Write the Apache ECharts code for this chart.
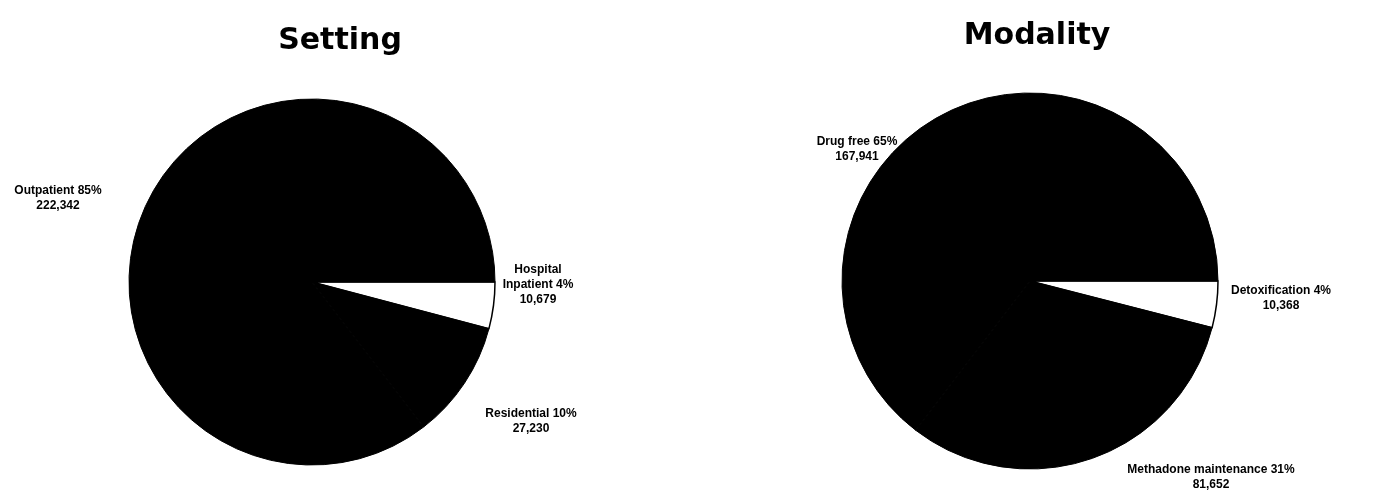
<!DOCTYPE html>
<html>
<head>
<meta charset="utf-8">
<script src="https://cdn.jsdelivr.net/npm/echarts@6/dist/echarts.min.js"></script>
<style>
html,body{margin:0;padding:0;background:#fff;}
#main{width:1381px;height:497px;}
</style>
</head>
<body>
<div id="main"></div>
<script>
// Data
const settingCategories = ['Hospital\nInpatient 4%', 'Residential 10%', 'Outpatient 85%'];
const settingValues = [10679, 27230, 222342];
const settingLabels = ['10,679', '27,230', '222,342'];

const modalityCategories = ['Detoxification 4%', 'Methadone maintenance 31%', 'Drug free 65%'];
const modalityValues = [10368, 81652, 167941];
const modalityLabels = ['10,368', '81,652', '167,941'];

const titles = ['Setting', 'Modality'];

// Layout (label anchor positions, not data)
const settingLabelPos = [[538, 285], [531, 421], [58, 198]];
const modalityLabelPos = [[1281, 298], [1211, 477], [857, 149]];

const sliceColors = ['#ffffff', '#000000', '#000000'];

function buildData(cats, vals, nums) {
  return cats.map((c, i) => ({
    name: c,
    value: vals[i],
    num: nums[i],
    itemStyle: {
      color: sliceColors[i],
      borderColor: '#000',
      borderWidth: i === 0 ? 1.5 : 1
    }
  }));
}

function layoutFn(pos) {
  return function (params) {
    const p = pos[params.dataIndex];
    return { x: p[0], y: p[1], align: 'center', verticalAlign: 'middle' };
  };
}

const labelStyle = {
  show: true,
  position: 'outside',
  color: '#000',
  fontFamily: 'Liberation Sans, Arial, sans-serif',
  fontWeight: 'bold',
  fontSize: 12,
  lineHeight: 15,
  align: 'center',
  formatter: function (p) { return p.name + '\n' + p.data.num; }
};

const titleStyle = { fontFamily: 'DejaVu Sans, sans-serif', fontSize: 30, fontWeight: 'bold', color: '#000' };

const chart = echarts.init(document.getElementById('main'), null, { renderer: 'canvas' });
chart.setOption({
  backgroundColor: '#fff',
  animation: false,
  title: [
    { text: titles[0], left: 335, top: 21, textAlign: 'center', textStyle: titleStyle },
    { text: titles[1], left: 1032, top: 16, textAlign: 'center', textStyle: titleStyle }
  ],
  series: [
    {
      type: 'pie',
      center: [312, 282],
      radius: [0, 183],
      startAngle: 0,
      clockwise: true,
      data: buildData(settingCategories, settingValues, settingLabels),
      label: labelStyle,
      labelLine: { show: false },
      labelLayout: layoutFn(settingLabelPos),
      emphasis: { disabled: true },
      silent: true
    },
    {
      type: 'pie',
      center: [1030, 281],
      radius: [0, 188],
      startAngle: 0,
      clockwise: true,
      data: buildData(modalityCategories, modalityValues, modalityLabels),
      label: labelStyle,
      labelLine: { show: false },
      labelLayout: layoutFn(modalityLabelPos),
      emphasis: { disabled: true },
      silent: true
    }
  ]
});
</script>
</body>
</html>
